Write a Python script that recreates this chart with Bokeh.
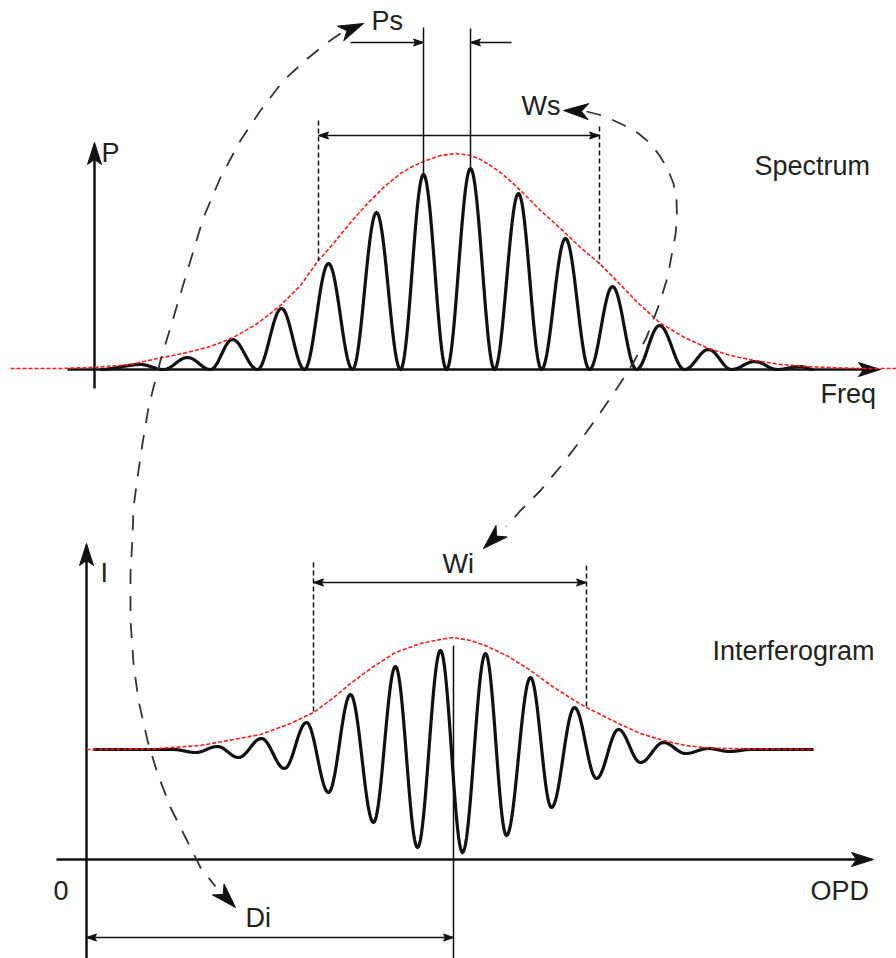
import numpy as np
from bokeh.plotting import figure
from bokeh.models import Range1d, Label
from bokeh.embed import file_html
from bokeh.resources import INLINE

# ---------------- values (drawing units = pixels) ----------------
# Spectrum fringe extrema (alternating minima on the baseline and maxima)
spec_x = [100, 140, 163, 187, 210, 232, 257, 281, 304, 328, 352, 376, 400, 423, 446, 470,
          494, 518, 541, 565, 589, 612, 636, 659, 684, 708, 731, 754, 777, 800, 813]
spec_y = [369, 364, 369, 357, 369, 339, 369, 308, 369, 263, 369, 212, 369, 174, 369, 168,
          369, 193, 369, 238, 369, 286, 369, 325, 369, 349, 369, 361, 369, 366, 369]

# Spectrum envelope (red dotted)
spec_env_x = [10, 60, 100, 130, 157, 187, 210, 233, 257, 280, 300, 317, 333, 350, 367, 384, 400,
              412, 423, 440, 456, 470, 480, 490, 500, 510, 520, 530, 540, 550, 560, 570, 580,
              590, 599, 613, 636, 659, 684, 708, 730, 754, 780, 813, 860, 896]
spec_env_y = [368, 368, 366.5, 364, 358, 352, 346, 337, 323, 305, 285, 261, 243, 222, 203, 186, 173,
              166, 161, 155, 153, 155, 159, 165, 172, 180.5, 190, 200, 210, 219, 228, 237.5, 247,
              255.5, 263, 277, 301, 322, 337, 348, 355, 360, 364, 366.5, 368, 368]

# Interferogram fringe extrema
intf_x = [93, 173, 195, 217, 238, 261, 284, 306, 328, 350, 373, 395, 417, 440, 462, 485,
          506, 530, 551, 574, 596, 618, 640, 663, 685, 708, 729, 750, 813]
intf_y = [749, 749, 752, 746, 757, 738, 768, 722, 792, 694, 822, 666, 847, 650, 852, 653,
          835, 677, 807, 707, 778, 729, 762, 742, 753, 748, 751, 749, 749]

# Interferogram envelope (red dotted)
intf_env_x = [86, 150, 200, 233, 260, 290, 313, 332, 350, 373, 395, 420, 440, 452, 470, 485,
              508, 530, 552, 574, 586, 618, 640, 663, 685, 708, 750, 813]
intf_env_y = [749, 748.5, 745, 739, 734, 723, 712, 698, 683, 666, 652, 643, 639, 637, 640, 645,
              656, 670, 686, 700, 707, 723, 733, 740, 745, 747.5, 748.5, 749]

# Text labels: (text, left x, baseline y)
label_text = ["P", "Ps", "Ws", "Spectrum", "Freq", "I", "Wi", "Interferogram", "0", "OPD", "Di"]
label_x = [101, 371, 521, 754, 820, 100, 442, 712, 53, 810, 245]
label_y = [152, 20, 105, 165, 393, 572, 563, 650, 890, 890, 917]

# Axes with arrow heads: (x0, y0, x1=tip, y1=tip)
axes_lines = [(67, 369, 880, 369), (94, 388, 94, 142),
              (56, 859, 873, 859), (86, 958, 86, 543)]

# Dimension arrows: (x0, y0, x1, y1, head at start, head at end)
dim_arrows = [(350, 42, 423, 42, False, True), (511, 42, 470, 42, False, True),
              (318, 135, 599, 135, True, True), (313, 582, 586, 582, True, True),
              (86, 937, 453, 937, True, True)]

# Solid marker lines (Ps peaks and zero OPD)
solid_lines = [(423, 27, 423, 174), (470, 28, 470, 168), (453, 645, 453, 958)]

# Dotted guide lines
dotted_lines = [(318, 120, 318, 260), (599, 126, 599, 263),
                (313, 562, 313, 712), (586, 565, 586, 707)]

# Curved dashed arrows (path points, both ends carry a head)
path_ps_di_x = [340, 327, 307, 283, 260, 240, 220, 203, 187, 173, 160, 153, 148, 142, 137, 133,
                132, 130, 130, 133, 138, 147, 157, 170, 185, 200, 215]
path_ps_di_y = [33, 42, 58, 80, 110, 140, 177, 217, 270, 317, 360, 387, 407, 443, 477, 507,
                537, 573, 620, 663, 700, 740, 773, 807, 837, 867, 886]
path_ws_wi_x = [586, 598, 609, 624, 638, 650, 659, 667, 673, 676, 676.5, 675, 672, 667, 659,
                646, 633, 617, 600, 580, 560, 540, 520, 506]
path_ws_wi_y = [111, 114, 118, 125, 133, 143, 155, 168, 183, 200, 217, 234, 250, 277, 303,
                337, 362, 387, 412, 440, 466, 490, 510, 526]
path_tips = [(363, 23), (235, 907), (563, 110), (483, 548)]

# ---------------- helpers ----------------
def fringe(xs, ys, n=24):
    X, Y = [xs[0]], [ys[0]]
    t = np.linspace(0, 1, n)[1:]
    for i in range(len(xs) - 1):
        X += list(xs[i] + (xs[i + 1] - xs[i]) * t)
        Y += list(ys[i] + (ys[i + 1] - ys[i]) * (1 - np.cos(np.pi * t)) / 2)
    return X, Y


def head(tx, ty, fx, fy, length, width, notch):
    dx, dy = tx - fx, ty - fy
    n = np.hypot(dx, dy)
    ux, uy = dx / n, dy / n
    px, py = -uy, ux
    bx, by = tx - ux * length, ty - uy * length
    nx, ny = tx - ux * (length - notch), ty - uy * (length - notch)
    return ([tx, bx + px * width / 2, nx, bx - px * width / 2],
            [ty, by + py * width / 2, ny, by - py * width / 2])


W, H = 896, 958
p = figure(width=W, height=H, x_range=Range1d(0, W), y_range=Range1d(H, 0),
           output_backend="svg", toolbar_location=None, min_border=0,
           x_axis_type=None, y_axis_type=None)
p.grid.visible = False
p.outline_line_color = None
p.background_fill_color = "white"
p.border_fill_color = "white"

INK = "#111111"

# axes
hx, hy = [], []
for (x0, y0, x1, y1) in axes_lines:
    p.line([x0, x1 - np.sign(x1 - x0) * 8], [y0, y1 - np.sign(y1 - y0) * 8],
           line_color=INK, line_width=2.5)
    a, b = head(x1, y1, x0, y0, 22, 14, 5)
    hx.append(a); hy.append(b)
p.patches(hx, hy, fill_color=INK, line_color=INK, line_width=1)

# fringe curves
sx, sy = fringe(spec_x, spec_y)
p.line(sx, sy, line_color=INK, line_width=3.2, line_join="round")
ix, iy = fringe(intf_x, intf_y)
p.line(ix, iy, line_color=INK, line_width=3.2, line_join="round")

# envelopes
p.line(spec_env_x, spec_env_y, line_color="#ff1a1a", line_width=1.6, line_dash="4 2")
p.line(intf_env_x, intf_env_y, line_color="#ff1a1a", line_width=1.6, line_dash="4 2")

# solid marker lines
for (x0, y0, x1, y1) in solid_lines:
    p.line([x0, x1], [y0, y1], line_color=INK, line_width=1.5)

# dotted guides
for (x0, y0, x1, y1) in dotted_lines:
    p.line([x0, x1], [y0, y1], line_color=INK, line_width=1.5, line_dash="5 3")

# dimension arrows
dhx, dhy = [], []
for (x0, y0, x1, y1, hs, he) in dim_arrows:
    p.line([x0, x1], [y0, y1], line_color=INK, line_width=1.5)
    if he:
        a, b = head(x1, y1, x0, y0, 10, 7, 2)
        dhx.append(a); dhy.append(b)
    if hs:
        a, b = head(x0, y0, x1, y1, 10, 7, 2)
        dhx.append(a); dhy.append(b)
p.patches(dhx, dhy, fill_color=INK, line_color=INK, line_width=1)

# curved dashed arrows
DASH = "#333333"
p.line(path_ps_di_x, path_ps_di_y, line_color=DASH, line_width=1.8, line_dash="15 12")
p.line(path_ws_wi_x, path_ws_wi_y, line_color=DASH, line_width=1.8, line_dash="15 12")
chx, chy = [], []
ends = [(path_ps_di_x[0], path_ps_di_y[0]), (path_ps_di_x[-1], path_ps_di_y[-1]),
        (path_ws_wi_x[0], path_ws_wi_y[0]), (path_ws_wi_x[-1], path_ws_wi_y[-1])]
for (tx, ty), (fx, fy) in zip(path_tips, ends):
    a, b = head(tx, ty, fx, fy, 25, 16, 7)
    chx.append(a); chy.append(b)
p.patches(chx, chy, fill_color=INK, line_color=INK, line_width=1)

# labels
for t, x, y in zip(label_text, label_x, label_y):
    p.add_layout(Label(x=x, y=y, text=t, text_font="Liberation Sans", text_font_size="27px",
                       text_color="#222222", text_align="left", text_baseline="alphabetic"))

open("out.html", "w").write(file_html(p, INLINE))
